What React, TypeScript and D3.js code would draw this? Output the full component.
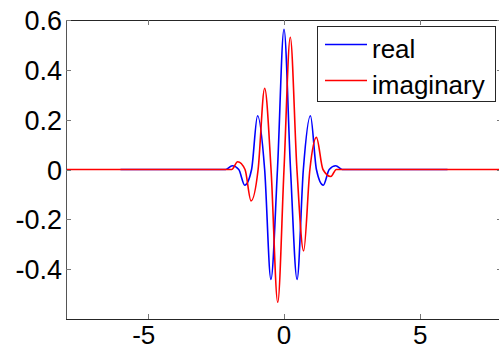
import { useEffect, useRef } from "react";
import * as d3 from "d3";

// values (extrema and zero crossings)
const realX = [-6, -2.4, -2.14, -1.9, -1.66, -1.44, -1.19, -0.97, -0.71, -0.48, -0.24, 0, 0.24, 0.48, 0.71, 0.97, 1.19, 1.44, 1.66, 1.9, 2.14, 2.4, 6];
const realY = [0, 0, 0, 0.015, 0, -0.063, 0, 0.216, 0, -0.441, 0, 0.563, 0, -0.441, 0, 0.216, 0, -0.063, 0, 0.015, 0, 0, 0];

const imagX = [-8, -2.3, -1.92, -1.7, -1.43, -1.21, -0.95, -0.71, -0.475, -0.23, 0, 0.23, 0.475, 0.72, 0.95, 1.19, 1.43, 1.72, 1.92, 2.3, 8];
const imagY = [0, 0, 0, 0.031, 0, -0.126, 0, 0.326, 0, -0.533, 0, 0.531, 0, -0.327, 0, 0.129, 0, -0.028, 0, 0, 0];

const xTicks = [-5, 0, 5];
const yTicks = [0.6, 0.4, 0.2, 0, -0.2, -0.4];
const legendLabels = ["real", "imaginary"];
const legendColors = ["#0000ff", "#ff0000"];

function App() {
    const svgRef = useRef(null);

    useEffect(() => {
        const width = 499;
        const height = 350;
        const left = 66, right = 502, top = 20, bottom = 319;

        const svg = d3.select(svgRef.current);
        svg.selectAll("*").remove();
        svg.attr("width", width).attr("height", height);

        const x = d3.scaleLinear().domain([-8, 8]).range([left, right]);
        const y = d3.scaleLinear().domain([-0.6, 0.6]).range([bottom, top]);

        svg.append("rect")
            .attr("width", width).attr("height", height)
            .attr("fill", "#fff");

        // lines
        const line = d3.line<[number, number]>()
            .x(d => x(d[0]))
            .y(d => y(d[1]))
            .curve(d3.curveMonotoneX);

        const realPts = realX.map((v, i) => [v, realY[i]] as [number, number]);
        const imagPts = imagX.map((v, i) => [v, imagY[i]] as [number, number]);

        svg.append("path")
            .datum(realPts)
            .attr("fill", "none")
            .attr("stroke", legendColors[0])
            .attr("stroke-width", 1.6)
            .attr("d", line);

        svg.append("path")
            .datum(imagPts)
            .attr("fill", "none")
            .attr("stroke", legendColors[1])
            .attr("stroke-width", 1.6)
            .attr("d", line);

        // box
        svg.append("line")
            .attr("x1", left).attr("x2", right).attr("y1", top + 0.5).attr("y2", top + 0.5)
            .attr("stroke", "#262626");
        svg.append("line")
            .attr("x1", left).attr("x2", right).attr("y1", bottom + 0.5).attr("y2", bottom + 0.5)
            .attr("stroke", "#262626");
        svg.append("line")
            .attr("x1", left + 0.5).attr("x2", left + 0.5).attr("y1", top).attr("y2", bottom)
            .attr("stroke", "#555");

        // ticks
        const tickLen = 5;
        xTicks.forEach(t => {
            const px = Math.round(x(t)) + 0.5;
            svg.append("line").attr("x1", px).attr("x2", px)
                .attr("y1", bottom).attr("y2", bottom - tickLen).attr("stroke", "#777");
            svg.append("line").attr("x1", px).attr("x2", px)
                .attr("y1", top).attr("y2", top + tickLen).attr("stroke", "#777");
            svg.append("text")
                .attr("x", x(t) - (t < 0 ? 4 : 0))
                .attr("y", 344)
                .attr("text-anchor", "middle")
                .style("font-family", "'Liberation Sans', Arial, sans-serif")
                .style("font-size", "26px")
                .style("fill", "#000")
                .text(t < 0 ? `-${Math.abs(t)}` : String(t));
        });

        yTicks.forEach(t => {
            const py = Math.round(y(t)) + 0.5;
            svg.append("line").attr("x1", left).attr("x2", left + tickLen)
                .attr("y1", py).attr("y2", py).attr("stroke", "#777");
            svg.append("line").attr("x1", right).attr("x2", right - tickLen)
                .attr("y1", py).attr("y2", py).attr("stroke", "#777");
            svg.append("text")
                .attr("x", 62)
                .attr("y", y(t) + 10)
                .attr("text-anchor", "end")
                .style("font-family", "'Liberation Sans', Arial, sans-serif")
                .style("font-size", "27px")
                .style("fill", "#000")
                .text(t < 0 ? `-${Math.abs(t)}` : String(t));
        });

        // legend
        const lg = svg.append("g");
        lg.append("rect")
            .attr("x", 317.5).attr("y", 26.5)
            .attr("width", 178).attr("height", 75)
            .attr("fill", "#fff")
            .attr("stroke", "#262626");
        legendLabels.forEach((lab, i) => {
            const ly = 44.5 + i * 36;
            lg.append("line")
                .attr("x1", 325).attr("x2", 367)
                .attr("y1", ly).attr("y2", ly)
                .attr("stroke", legendColors[i])
                .attr("stroke-width", 1.6);
            lg.append("text")
                .attr("x", 372)
                .attr("y", ly + 13)
                .style("font-family", "'Liberation Sans', Arial, sans-serif")
                .style("font-size", "26px")
                .style("fill", "#000")
                .text(lab);
        });
    }, []);

    return (
        <svg ref={svgRef} style={{ position: "absolute", left: 0, top: 0 }}></svg>
    );
}

export default App;
